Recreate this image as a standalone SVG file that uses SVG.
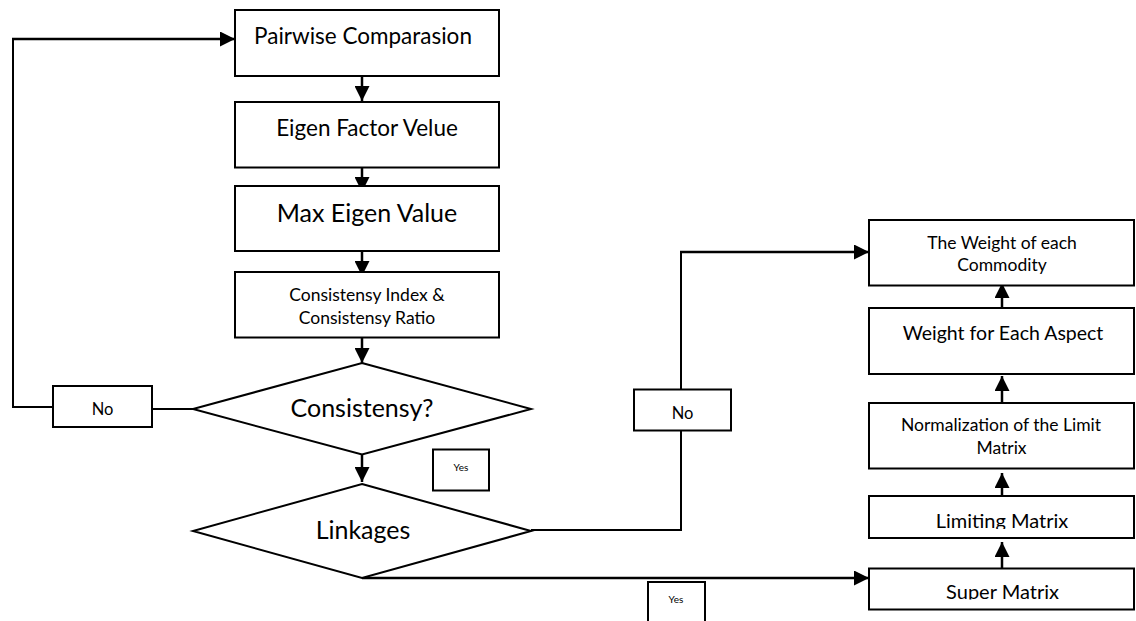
<svg xmlns="http://www.w3.org/2000/svg" width="1136" height="621" viewBox="0 0 1136 621">
  <style>
    .box { fill: #ffffff; stroke: #000000; stroke-width: 2; }
    .conn { fill: none; stroke: #000000; stroke-width: 2.5; }
    .thin { fill: none; stroke: #000000; stroke-width: 2; }
    text { font-family: Lato, "Liberation Sans", sans-serif; fill: #000000; text-anchor: middle; }
  </style>
  <defs>
    <marker id="arrow" viewBox="0 0 15 15" refX="15" refY="7.5" markerWidth="15" markerHeight="15" markerUnits="userSpaceOnUse" orient="auto">
      <path d="M0,0 L15,7.5 L0,15 z" fill="#000000"/>
    </marker>
    <clipPath id="clipLimiting"><rect x="869" y="496" width="266" height="33"/></clipPath>
    <clipPath id="clipSuper"><rect x="869" y="568" width="266" height="31.5"/></clipPath>
  </defs>

  <g id="connectors">
    <path class="conn" d="M362,76 V101" marker-end="url(#arrow)"/>
    <path class="conn" d="M362,167.5 V192" marker-end="url(#arrow)"/>
    <path class="conn" d="M362,251 V276" marker-end="url(#arrow)"/>
    <path class="conn" d="M362,337.5 V363" marker-end="url(#arrow)"/>
    <path class="conn" d="M362,454.5 V482" marker-end="url(#arrow)"/>
    <path class="thin" d="M193,409 H152"/>
    <path class="thin" d="M53,407 H13 V39"/>
    <path class="conn" d="M12,39 H235" marker-end="url(#arrow)"/>
    <path class="thin" d="M531,530 H681 V430"/>
    <path class="thin" d="M681,389 V252"/>
    <path class="conn" d="M680,252 H869" marker-end="url(#arrow)"/>
    <path class="conn" d="M362,578 H869" marker-end="url(#arrow)"/>
    <path class="conn" d="M1002,568.5 V542" marker-end="url(#arrow)"/>
    <path class="conn" d="M1002,496 V473" marker-end="url(#arrow)"/>
    <path class="conn" d="M1002,403 V376" marker-end="url(#arrow)"/>
    <path class="conn" d="M1002,308 V283" marker-end="url(#arrow)"/>
  </g>

  <g id="pairwise">
    <rect class="box" x="235" y="10" width="264" height="66"/>
    <text x="363" y="44" font-size="22.5">Pairwise Comparasion</text>
  </g>
  <g id="eigen-factor">
    <rect class="box" x="235" y="102" width="264" height="65.5"/>
    <text x="367" y="136" font-size="22.5">Eigen Factor Velue</text>
  </g>
  <g id="max-eigen">
    <rect class="box" x="235" y="186" width="264" height="65"/>
    <text x="367" y="222" font-size="25">Max Eigen Value</text>
  </g>
  <g id="consistency-index">
    <rect class="box" x="235" y="272" width="264" height="65.5"/>
    <text x="367" y="301" font-size="17.5">Consistensy Index &amp;</text>
    <text x="367" y="323.5" font-size="17.5">Consistensy Ratio</text>
  </g>
  <g id="consistency-decision">
    <polygon class="box" points="362,363 531,409 362,454.5 193,409"/>
    <text x="362" y="417" font-size="25">Consistensy?</text>
  </g>
  <g id="no-left">
    <rect class="box" x="53" y="386" width="99" height="41"/>
    <text x="102.5" y="415" font-size="16.5">No</text>
  </g>
  <g id="yes-1">
    <rect class="box" x="433" y="449.5" width="56" height="41"/>
    <text x="461" y="471" font-size="10">Yes</text>
  </g>
  <g id="linkages">
    <polygon class="box" points="362,484 531,531 362,578 193,531"/>
    <text x="363" y="538.5" font-size="25">Linkages</text>
  </g>
  <g id="no-right">
    <rect class="box" x="634" y="389.5" width="97" height="41"/>
    <text x="682.5" y="419" font-size="16.5">No</text>
  </g>
  <g id="yes-2">
    <rect class="box" x="648" y="582" width="57" height="45"/>
    <text x="676" y="603" font-size="10">Yes</text>
  </g>
  <g id="weight-commodity">
    <rect class="box" x="869" y="220" width="265" height="65.5"/>
    <text x="1002" y="249" font-size="17.5">The Weight of each</text>
    <text x="1002" y="271" font-size="17.5">Commodity</text>
  </g>
  <g id="weight-aspect">
    <rect class="box" x="869" y="308" width="265" height="66"/>
    <text x="1003" y="339.5" font-size="19.5">Weight for Each Aspect</text>
  </g>
  <g id="normalization">
    <rect class="box" x="869" y="403" width="265" height="65.5"/>
    <text x="1001" y="431" font-size="17.5">Normalization of the Limit</text>
    <text x="1001.5" y="453.5" font-size="17.5">Matrix</text>
  </g>
  <g id="limiting-matrix">
    <rect class="box" x="869" y="496" width="265" height="42"/>
    <text x="1002" y="527.5" font-size="20" clip-path="url(#clipLimiting)">Limiting Matrix</text>
  </g>
  <g id="super-matrix">
    <rect class="box" x="869" y="568.5" width="265" height="41"/>
    <text x="1002.5" y="598.5" font-size="20" clip-path="url(#clipSuper)">Super Matrix</text>
  </g>
</svg>
